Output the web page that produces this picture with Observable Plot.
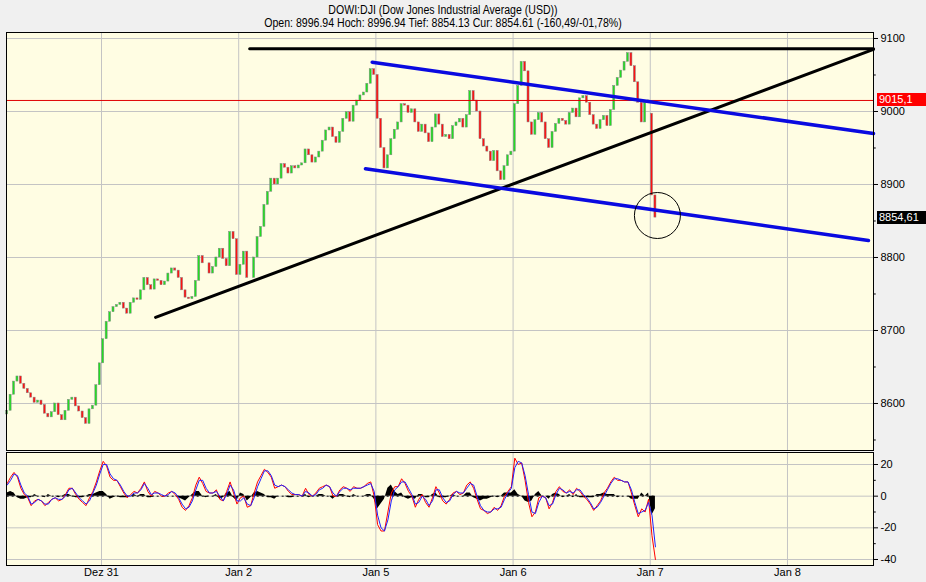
<!DOCTYPE html>
<html><head><meta charset="utf-8">
<script src="https://cdn.jsdelivr.net/npm/d3@7"></script>
<script src="https://cdn.jsdelivr.net/npm/@observablehq/plot@0.6"></script>
<style>
html,body{margin:0;padding:0;background:#f0f0f0;overflow:hidden;}
#wrap{position:relative;width:926px;height:582px;font-family:"Liberation Sans",Arial,sans-serif;}
#wrap svg{position:absolute;left:0;top:0;}
.title{position:absolute;left:0;width:886px;text-align:center;font-family:"Liberation Sans",Arial,sans-serif;font-size:12px;line-height:14px;color:#000;white-space:nowrap;transform:scaleX(0.88);transform-origin:443px 50%;}
.tag{position:absolute;left:877px;width:49px;height:13px;line-height:13px;font-size:11px;color:#fff;padding-left:2px;box-sizing:border-box;font-family:"Liberation Sans",Arial,sans-serif;}
</style></head><body><div id="wrap"></div>
<script>
// ---------- data ----------
const titleText = "DOWI:DJI (Dow Jones Industrial Average (USD))";
const subtitleText = "Open: 8996.94 Hoch: 8996.94 Tief: 8854.13 Cur: 8854.61 (-160,49/-01,78%)";
const dayLabels = ["Dez 31", "Jan 2", "Jan 5", "Jan 6", "Jan 7", "Jan 8"];
const dayTicks = [0, 1, 2, 3, 4, 5];
const priceTicks = [8600, 8700, 8800, 8900, 9000, 9100];
const priceMinorTicks = [8550, 8650, 8750, 8850, 8950, 9050];
const oscTicks = [20, 0, -20, -40];
const oscMinorTicks = [10, -10, -30];
const prevClose = 9015.1;
const lastPrice = 8854.61;
const barsPerDay = 40;

const dec30Open = 8585;
const dec30Close = [8590, 8612, 8630, 8637, 8627, 8620, 8614, 8608, 8601, 8604, 8598, 8586, 8581, 8588, 8600, 8584, 8577, 8590, 8605, 8608, 8596, 8589, 8580, 8572, 8592, 8597, 8625, 8655];
const dec31Close = [8688, 8712, 8725, 8732, 8735, 8738, 8730, 8723, 8738, 8744, 8742, 8755, 8772, 8762, 8756, 8770, 8768, 8762, 8767, 8778, 8785, 8782, 8772, 8755, 8745, 8743, 8746, 8768, 8802, 8792, 8792, 8778, 8787, 8800, 8812, 8798, 8788, 8835, 8825, 8776];
const jan2Close = [8790, 8808, 8772, 8772, 8800, 8828, 8842, 8872, 8890, 8908, 8900, 8908, 8928, 8923, 8915, 8925, 8922, 8926, 8929, 8948, 8940, 8930, 8937, 8945, 8960, 8974, 8978, 8965, 8957, 8972, 8990, 8999, 8986, 9008, 9015, 9022, 9026, 9038, 9058, 9050];
const jan5Close = [8990, 8950, 8922, 8940, 8962, 8975, 8985, 9010, 9008, 8998, 9003, 8985, 8972, 8982, 8970, 8958, 8978, 8996, 8982, 8965, 8968, 8962, 8980, 8985, 8990, 8978, 8995, 9028, 9015, 9000, 8962, 8952, 8945, 8932, 8946, 8918, 8906, 8925, 8940, 8945];
const jan6Close = [9010, 9035, 9068, 9055, 8985, 8968, 8988, 8998, 8985, 8962, 8950, 8972, 8983, 8990, 8987, 8982, 8998, 9004, 8992, 9018, 9021, 9012, 8995, 8982, 8976, 8988, 8994, 8980, 9002, 9035, 9046, 9056, 9068, 9080, 9062, 9040, 9012, 8985, 9012, 9015.1];
const jan7Open = 8996.94;
const jan7Close = [8885, 8854.61];

const dec30Osc = [8, 12, 15, 12, 5, 1, -1, -6, -3, -2, -3, -6, -4, -2, -1, -3, -2, 1, 5, 5, 1, -2, -4, -6, -1, 3, 9, 16];
const dec31Osc = [22, 19, 12, 10, 10, 6, 2, -1, 1, 3, 2, 5, 9, 3, 0, 3, 2, 0, 0, 2, 3, 1, -2, -7, -9, -6, -1, 7, 12, 8, 3, 2, 2, 4, -2, -3, 3, 9, 2, -5];
const jan2Osc = [-1, 0, -7, -6, 2, 9, 13, 17, 15, 12, 5, 6, 7, 6, 3, 1, 1, 1, 0, 5, 1, 0, 2, 5, 6, 7, 6, 0, 0, 4, 6, 5, 3, 6, 5, 5, 6, 8, 9, 0];
const jan5Osc = [-18, -22, -22, -10, 2, 6, 6, 11, 8, 3, 0, -7, -2, 1, -4, -7, -1, 6, 2, -3, -5, -2, 2, 3, 1, 2, 7, 9, 5, -2, -8, -9, -11, -10, -7, -9, -6, 0, 3, 6];
const jan6Osc = [24, 20, 21, 10, -4, -13, -10, -1, 0, -1, -8, -4, 3, 6, 3, 2, 4, 1, 5, 3, 0, -2, -5, -9, -6, -3, 2, 5, 9, 12, 10, 10, 9, 9, 2, -6, -13, -8, -10, -2];
const jan7Osc = [-25, -40];

const dec30Sig = [7, 10, 14, 13, 7, 2, 0, -5, -4, -2, -3, -5, -5, -2, -1, -2, -2, 0, 4, 5, 2, -1, -3, -5, -3, 2, 7, 14];
const dec31Sig = [20, 20, 14, 11, 10, 7, 3, 0, 0, 2, 2, 4, 8, 5, 1, 2, 2, 1, 0, 1, 3, 2, -1, -5, -8, -7, -3, 4, 10, 10, 5, 2, 2, 3, 0, -3, 1, 7, 4, -3];
const jan2Sig = [-3, -1, -5, -6, -1, 6, 11, 16, 16, 13, 7, 6, 7, 6, 4, 2, 1, 1, 0, 3, 2, 0, 1, 4, 5, 7, 6, 2, 0, 3, 5, 5, 4, 5, 5, 5, 6, 7, 8, 3];
const jan5Sig = [-12, -20, -22, -15, -3, 4, 6, 9, 9, 5, 1, -5, -4, 0, -2, -6, -3, 4, 4, -1, -4, -3, 1, 3, 2, 2, 5, 8, 7, 0, -6, -9, -10, -10, -8, -8, -7, -2, 2, 5];
const jan6Sig = [18, 22, 21, 13, 1, -10, -11, -4, 0, -1, -6, -5, 1, 5, 4, 2, 3, 2, 4, 4, 1, -1, -4, -8, -7, -4, 0, 4, 8, 11, 11, 10, 9, 9, 4, -4, -11, -10, -9, -4];
const jan7Sig = [-12, -32];

const dec30Hist = [2, 3, 2, -1, -2, -2, -1, -1, 1, 0, 0, -1, 1, 0, 0, -1, 0, 1, 1, 0, -1, -1, -1, 0, 1, 1, 2, 3];
const dec31Hist = [3, 1, -2, -1, 0, -1, -1, -1, 0, 1, 0, 1, 1, -1, -1, 0, 0, 0, 0, 0, 0, 0, -1, -2, -3, -1, 1, 3, 3, 0, -1, 0, 0, 1, -2, -1, 2, 3, -1, -3];
const jan2Hist = [2, 1, -3, -1, 2, 3, 2, 1, -1, -1, -2, 0, 0, 0, -1, -1, 0, 0, 0, 1, -1, 0, 0, 1, 1, 0, 0, -2, 0, 1, 1, 0, -1, 1, 0, 0, 0, 1, 1, -2];
const jan5Hist = [-8, -5, -2, 5, 7, 3, 1, 2, -1, -2, -1, -2, 1, 1, -1, -1, 1, 2, -1, -1, -1, 0, 1, 0, 0, 0, 2, 2, -1, -2, -3, -2, -2, -1, 0, -1, 0, 2, 2, 2];
const jan6Hist = [4, 1, 0, -3, -4, -3, 1, 3, 0, 0, -2, 1, 2, 1, -1, 0, 1, -1, 1, -1, -1, -1, -1, -1, 1, 1, 2, 1, 1, 1, -1, 0, 0, 0, -2, -2, -2, 2, 0, 2];
const jan7Hist = [-12, -8];

// trend lines (trading-day index, price)
const resistanceLine = [{t: 1.08, v: 9086}, {t: 5.627, v: 9086}];
const supportLine = [{t: 0.394, v: 8718}, {t: 5.627, v: 9085}];
const channelUpper = [{t: 1.973, v: 9067.5}, {t: 5.627, v: 8969.9}];
const channelLower = [{t: 1.924, v: 8921.5}, {t: 5.590, v: 8823.3}];
const circleMark = [{t: 4.052, v: 8857.5}];

// ---------- build ----------
const sessions = [
  {day: -1, first: 12, open: dec30Open, close: dec30Close, osc: dec30Osc, sig: dec30Sig, hist: dec30Hist},
  {day: 0, first: 0, close: dec31Close, osc: dec31Osc, sig: dec31Sig, hist: dec31Hist},
  {day: 1, first: 0, close: jan2Close, osc: jan2Osc, sig: jan2Sig, hist: jan2Hist},
  {day: 2, first: 0, close: jan5Close, osc: jan5Osc, sig: jan5Sig, hist: jan5Hist},
  {day: 3, first: 0, close: jan6Close, osc: jan6Osc, sig: jan6Sig, hist: jan6Hist},
  {day: 4, first: 0, open: jan7Open, close: jan7Close, osc: jan7Osc, sig: jan7Sig, hist: jan7Hist}
];
const bars = [];
sessions.forEach(s => s.close.forEach((c, i) => {
  const prev = bars.length ? bars[bars.length - 1].close : c;
  const open = (i === 0 && s.open !== undefined) ? s.open : prev;
  bars.push({t: s.day + (s.first + i + 0.5) / barsPerDay, open, close: c, osc: s.osc[i], sig: s.sig[i], hist: s.hist[i]});
}));

const xDomain = [-0.6924, 5.627];
const hw = 0.3 / barsPerDay;
const W = 926, H = 582;
const cream = "#fffde3", gridC = "#c4c4c4";
const baseStyle = {background: "transparent", fontFamily: "'Liberation Sans', Arial, sans-serif", fontSize: "11px", color: "#000", overflow: "visible"};

const main = Plot.plot({
  width: W, height: H, marginTop: 32, marginBottom: 132, marginLeft: 6, marginRight: 53,
  style: baseStyle,
  x: {domain: xDomain, axis: null},
  y: {domain: [8535.6, 9108.2], axis: "right", ticks: priceTicks, tickSize: 4, tickPadding: 3, tickFormat: d => String(d), label: null},
  marks: [
    Plot.frame({fill: cream, stroke: null}),
    Plot.ruleY(priceTicks, {stroke: gridC}),
    Plot.ruleX(dayTicks, {stroke: gridC}),
    Plot.rect(bars, {x1: d => d.t - hw, x2: d => d.t + hw, y1: "open", y2: "close",
      fill: d => d.close >= d.open ? "#22dd22" : "#ff1010", stroke: "#858585", strokeWidth: 0.5}),
    Plot.ruleY([prevClose], {stroke: "#e00000", strokeWidth: 1}),
    Plot.line(resistanceLine, {x: "t", y: "v", stroke: "#000", strokeWidth: 3}),
    Plot.line(supportLine, {x: "t", y: "v", stroke: "#000", strokeWidth: 3}),
    Plot.line(channelUpper, {x: "t", y: "v", stroke: "#0a0ae0", strokeWidth: 3.5}),
    Plot.line(channelLower, {x: "t", y: "v", stroke: "#0a0ae0", strokeWidth: 3.5}),
    Plot.dot(circleMark, {x: "t", y: "v", r: 23, stroke: "#000", fill: "none", strokeWidth: 1}),
    Plot.ruleY(priceMinorTicks, {x1: xDomain[1], x2: xDomain[1] + 0.02, stroke: "#000"}),
    Plot.frame({stroke: "#000"})
  ]
});

const firstT = bars[0].t, lastT = bars[bars.length - 1].t;
const osc = Plot.plot({
  width: W, height: H, marginTop: 452, marginBottom: 17, marginLeft: 6, marginRight: 53,
  style: baseStyle,
  x: {domain: xDomain, ticks: dayTicks, tickFormat: d => dayLabels[d], tickSize: 0, tickPadding: 3, label: null},
  y: {domain: [-43.79, 27.58], axis: "right", ticks: oscTicks, tickSize: 4, tickPadding: 3, tickFormat: d => String(d), label: null},
  marks: [
    Plot.frame({fill: cream, stroke: null}),
    Plot.ruleY(oscTicks, {stroke: gridC}),
    Plot.ruleX(dayTicks, {stroke: gridC}),
    Plot.areaY(bars, {x: "t", y: "hist", fill: "#000"}),
    Plot.ruleY([0], {x1: firstT, x2: lastT, stroke: "#000", strokeDasharray: "2,3"}),
    Plot.line(bars, {x: "t", y: "osc", stroke: "#ff0000", strokeWidth: 1}),
    Plot.line(bars, {x: "t", y: "sig", stroke: "#2020ff", strokeWidth: 1}),
    Plot.ruleY(oscMinorTicks, {x1: xDomain[1], x2: xDomain[1] + 0.02, stroke: "#000"}),
    Plot.frame({stroke: "#000"})
  ]
});

const wrap = document.getElementById("wrap");
wrap.appendChild(main);
wrap.appendChild(osc);

const t1 = document.createElement("div");
t1.className = "title"; t1.style.top = "3px"; t1.textContent = titleText;
const t2 = document.createElement("div");
t2.className = "title"; t2.style.top = "16px"; t2.textContent = subtitleText;
wrap.appendChild(t1); wrap.appendChild(t2);

const ys = main.scale("y");
function tag(v, text, bg) {
  const d = document.createElement("div");
  d.className = "tag";
  d.style.background = bg;
  d.style.top = (ys.apply(v) - 6.5) + "px";
  d.textContent = text;
  wrap.appendChild(d);
}
tag(prevClose, "9015,1", "#ff0000");
tag(lastPrice, "8854,61", "#000");
</script></body></html>
